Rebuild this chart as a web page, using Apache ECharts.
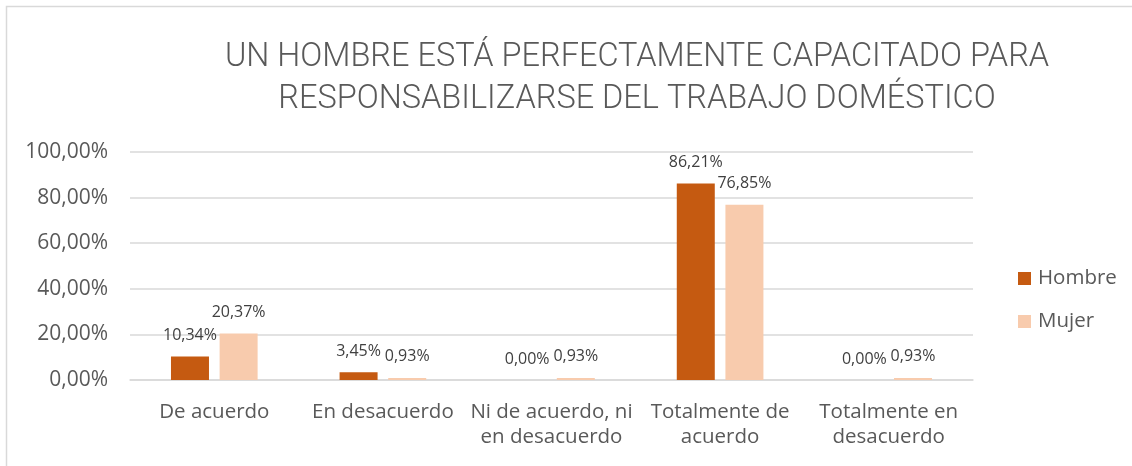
<!DOCTYPE html>
<html>
<head>
<meta charset="utf-8">
<script src="https://cdn.jsdelivr.net/npm/echarts@6/dist/echarts.min.js"></script>
<style>
  html, body { margin: 0; padding: 0; background: #ffffff; }
  #chart { width: 1132px; height: 466px; }
</style>
</head>
<body>
<div id="chart"></div>
<script>
// Survey answers, percentage of respondents by sex
const categories = [
  'De acuerdo',
  'En desacuerdo',
  'Ni de acuerdo, ni\nen desacuerdo',
  'Totalmente de\nacuerdo',
  'Totalmente en\ndesacuerdo'
];
const hombre = [10.34, 3.45, 0.00, 86.21, 0.00];
const mujer = [20.37, 0.93, 0.93, 76.85, 0.93];
const yTicks = { min: 0, max: 100, interval: 20 };

const fmtPct = v => v.toFixed(2).replace('.', ',') + '%';
const textColor = '#595959';
const font = '"Open Sans", "Noto Sans", sans-serif';

const chart = echarts.init(document.getElementById('chart'), null, { renderer: 'canvas' });

const labelStyle = {
  show: true,
  position: 'top',
  distance: 13,
  fontFamily: font,
  fontSize: 16,
  color: '#404040',
  formatter: p => fmtPct(p.value)
};

chart.setOption({
  animation: false,
  backgroundColor: '#ffffff',
  graphic: [{
    type: 'rect',
    shape: { x: 6.5, y: 6.5, width: 1200, height: 600 },
    style: { fill: 'none', stroke: '#d9d9d9', lineWidth: 1.5 },
    silent: true
  }],
  title: {
    text: 'UN HOMBRE ESTÁ PERFECTAMENTE CAPACITADO PARA\nRESPONSABILIZARSE DEL TRABAJO DOMÉSTICO',
    left: 632,
    top: 32,
    textAlign: 'center',
    textStyle: {
      fontFamily: 'Roboto, sans-serif',
      fontWeight: 300,
      fontSize: 32.5,
      lineHeight: 42,
      color: textColor
    }
  },
  legend: {
    orient: 'vertical',
    left: 1013,
    top: 263,
    itemWidth: 13,
    itemHeight: 13,
    itemGap: 22,
    icon: 'rect',
    textStyle: { fontFamily: font, fontSize: 20.5, color: textColor, padding: [0, 0, 0, 2] },
    data: ['Hombre', 'Mujer']
  },
  grid: { left: 130, right: 159, top: 152, bottom: 86, containLabel: false },
  xAxis: {
    type: 'category',
    data: categories,
    axisLine: { show: true, lineStyle: { color: '#d9d9d9', width: 1.5 } },
    axisTick: { show: false },
    axisLabel: {
      fontFamily: font,
      fontSize: 20.5,
      lineHeight: 25,
      color: textColor,
      margin: 20,
      interval: 0
    }
  },
  yAxis: {
    type: 'value',
    min: yTicks.min,
    max: yTicks.max,
    interval: yTicks.interval,
    axisLine: { show: false },
    axisTick: { show: false },
    splitLine: { lineStyle: { color: '#d9d9d9', width: 1.5 } },
    axisLabel: {
      fontFamily: font,
      fontSize: 21,
      color: textColor,
      margin: 22,
      formatter: v => fmtPct(v)
    }
  },
  series: [
    {
      name: 'Hombre',
      type: 'bar',
      data: hombre,
      barWidth: 38,
      barGap: '28%',
      itemStyle: { color: '#C55A11' },
      label: labelStyle
    },
    {
      name: 'Mujer',
      type: 'bar',
      data: mujer,
      barWidth: 38,
      itemStyle: { color: '#F8CBAD' },
      label: labelStyle
    }
  ]
});
</script>
</body>
</html>
